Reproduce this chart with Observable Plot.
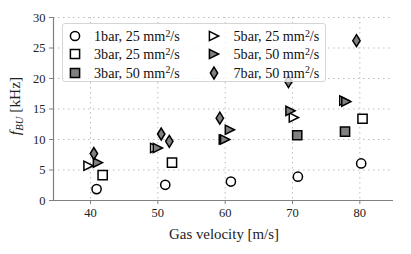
<!DOCTYPE html>
<html><head><meta charset="utf-8">
<script src="https://cdn.jsdelivr.net/npm/d3@7"></script>
<script src="https://cdn.jsdelivr.net/npm/@observablehq/plot@0.6"></script>
<style>
body{margin:0;background:#fff;}
#wrap{position:relative;width:411px;height:254px;font-family:"Liberation Serif",serif;}
#legend{position:absolute;left:62px;top:23px;width:264px;height:59px;background:rgba(255,255,255,0.8);border:1px solid #d6d6d6;border-radius:3px;box-sizing:border-box;}
.item{position:absolute;line-height:16px;color:#111;white-space:nowrap;font-family:"Liberation Serif",serif;}
.item sup{font-size:70%;vertical-align:0;position:relative;top:-0.45em;}
.mk{position:absolute;width:16px;height:16px;}
</style></head><body><div id="wrap"></div>
<script>
// ---- data ----
const xTicks = [40, 50, 60, 70, 80];
const yTicks = [0, 5, 10, 15, 20, 25, 30];
const xDomain = [34.5, 85];
const yDomain = [0, 30];

const labels = ["1bar, 25 mm²/s", "3bar, 25 mm²/s", "3bar, 50 mm²/s", "5bar, 25 mm²/s", "5bar, 50 mm²/s", "7bar, 50 mm²/s"];

const x1bar25 = [40.9, 51.1, 60.85, 70.8, 80.2];
const y1bar25 = [1.87, 2.57, 3.1, 3.9, 6.07];
const x3bar25 = [41.8, 52.1, 80.4];
const y3bar25 = [4.16, 6.2, 13.4];
const x3bar50 = [70.7, 77.8];
const y3bar50 = [10.7, 11.3];
const x5bar25 = [39.7, 49.6, 59.8, 70.2, 77.7];
const y5bar25 = [5.7, 8.6, 10.0, 13.6, 16.4];
const x5bar50 = [41.1, 50.0, 60.0, 60.7, 69.7, 78.0];
const y5bar50 = [6.2, 8.6, 10.0, 11.6, 14.7, 16.2];
const x7bar50 = [40.5, 50.5, 51.7, 59.2, 69.4, 79.5];
const y7bar50 = [7.7, 10.9, 9.7, 13.5, 19.5, 26.2];

// ---- font sizing (match reference text widths) ----
const FONT = "'Liberation Serif', serif";
const cv = document.createElement("canvas").getContext("2d");
function fit(text, target, base = 12) {
  cv.font = `${base}px ${FONT}`;
  const w = cv.measureText(text).width;
  return Math.max(9, Math.min(16, base * target / w));
}
const fsTick = fit("40", 12.5);
const fsXLab = fit("Gas velocity [m/s]", 110);
const fsLeg = fit("1bar, 25 mm2/s", 88);

// ---- symbols ----
const rOf = size => Math.sqrt(size / Math.PI);
const symCircle = {draw(c, size){const r=rOf(size); c.moveTo(r,0); c.arc(0,0,r,0,2*Math.PI); c.closePath();}};
const symSquare = {draw(c, size){const r=rOf(size); c.rect(-r,-r,2*r,2*r);}};
const symTri = {draw(c, size){const r=rOf(size); c.moveTo(r,0); c.lineTo(-r,r); c.lineTo(-r,-r); c.closePath();}};
const symDiam = {draw(c, size){const r=rOf(size); const hh=1.3*r, hw=0.8*r; c.moveTo(0,-hh); c.lineTo(hw,0); c.lineTo(0,hh); c.lineTo(-hw,0); c.closePath();}};

const GREY = "#808080";
const series = [
  {label: labels[0], x: x1bar25, y: y1bar25, sym: symCircle, fill: "white", col: 0, row: 0},
  {label: labels[1], x: x3bar25, y: y3bar25, sym: symSquare, fill: "white", col: 0, row: 1},
  {label: labels[2], x: x3bar50, y: y3bar50, sym: symSquare, fill: GREY, col: 0, row: 2},
  {label: labels[3], x: x5bar25, y: y5bar25, sym: symTri, fill: "white", col: 1, row: 0},
  {label: labels[4], x: x5bar50, y: y5bar50, sym: symTri, fill: GREY, col: 1, row: 1},
  {label: labels[5], x: x7bar50, y: y7bar50, sym: symDiam, fill: GREY, col: 1, row: 2},
];
const R = 4.6;

const plot = Plot.plot({
  width: 411, height: 254,
  marginLeft: 53, marginRight: 18, marginTop: 17, marginBottom: 54,
  style: {fontFamily: FONT, fontSize: fsTick + "px", color: "#222", background: "white"},
  x: {domain: xDomain},
  y: {domain: yDomain},
  marks: [
    Plot.gridX({ticks: xTicks, stroke: "#bdbdbd", strokeOpacity: 1, strokeDasharray: "1.5,3.5"}),
    Plot.gridY({ticks: yTicks.slice(1), stroke: "#bdbdbd", strokeOpacity: 1, strokeDasharray: "1.5,3.5"}),
    Plot.axisX({ticks: xTicks, tickSize: 4, tickPadding: 4, label: null}),
    Plot.axisY({ticks: yTicks, tickSize: 4, tickPadding: 4, label: null}),
    Plot.ruleX([xDomain[0]], {stroke: "#808080", strokeWidth: 1.2}),
    Plot.ruleY([yDomain[0]], {stroke: "#808080", strokeWidth: 1.2}),
    ...series.map(s => Plot.dot(s.x.map((v, i) => ({x: v, y: s.y[i]})), {
      x: "x", y: "y", r: R, symbol: s.sym, fill: s.fill, stroke: "black", strokeWidth: 1.5
    }))
  ]
});

const svg = d3.select(plot);
svg.selectAll('[aria-label="x-axis tick"], [aria-label="y-axis tick"]').attr("stroke", "#808080");

// x label
svg.append("text")
  .attr("x", 224).attr("y", 239)
  .attr("text-anchor", "middle")
  .attr("font-size", fsXLab + "px")
  .attr("fill", "#222")
  .text("Gas velocity [m/s]");

// y label with subscript
const yl = svg.append("text")
  .attr("transform", "translate(20,106) rotate(-90)")
  .attr("text-anchor", "middle")
  .attr("font-size", (fsXLab + 0.5) + "px")
  .attr("fill", "#222");
yl.append("tspan").attr("font-style", "italic").text("f");
yl.append("tspan").attr("font-style", "italic").attr("font-size", (fsXLab * 0.72) + "px").attr("dy", "3").text("BU");
yl.append("tspan").attr("dy", "-3").text(" [kHz]");

const wrap = document.getElementById("wrap");
wrap.appendChild(plot);

// legend (inside plot area, over points)
const legend = document.createElement("div");
legend.id = "legend";
wrap.appendChild(legend);
const colMk = [12, 150.7], colTx = [31, 170.5], rowY = [12, 30.3, 48.7];
series.forEach(s => {
  const p = d3.path(); s.sym.draw(p, R * R * Math.PI);
  const mk = d3.create("svg").attr("class", "mk").attr("width", 16).attr("height", 16)
    .attr("viewBox", "-8 -8 16 16")
    .style("left", (colMk[s.col] - 8) + "px").style("top", (rowY[s.row] - 8) + "px");
  mk.append("path").attr("d", p.toString()).attr("fill", s.fill).attr("stroke", "black").attr("stroke-width", 1.5);
  legend.appendChild(mk.node());
  const t = document.createElement("div");
  t.className = "item";
  t.style.fontSize = fsLeg + "px";
  t.style.left = colTx[s.col] + "px";
  t.style.top = (rowY[s.row] - 8) + "px";
  const [pre, post] = s.label.split("²");
  t.append(pre);
  const sup = document.createElement("sup"); sup.textContent = "2"; t.append(sup);
  t.append(post);
  legend.appendChild(t);
});
</script>
</body></html>
